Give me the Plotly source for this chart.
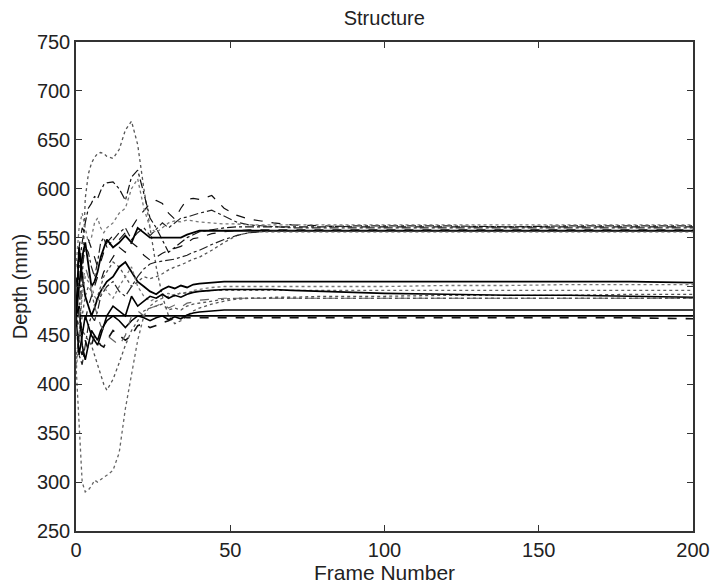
import plotly.graph_objects as go

# Frame grid shared by all series
frames = [0, 1, 2, 3, 4, 5, 6, 7, 8, 9, 10, 12, 14, 16, 18, 20, 22, 24, 26, 28, 30,
          32, 34, 36, 38, 40, 44, 48, 52, 56, 60, 64, 70, 80, 90, 100, 120, 140, 160, 180, 200]

s01 = [420, 450, 500, 590, 615, 626, 632, 636, 637, 636, 633, 631, 640, 660, 669, 645, 600, 560, 520, 490, 470,
       462, 465, 470, 475, 478, 482, 485, 487, 488, 488, 489, 489, 490, 490, 490, 491, 491, 491, 492, 492]
s02 = [470, 520, 545, 565, 580, 585, 592, 590, 598, 604, 606, 607, 600, 588, 612, 619, 595, 570, 560, 548, 535,
       540, 545, 550, 553, 556, 558, 560, 561, 561, 561, 561, 561, 561, 562, 562, 562, 561, 562, 562, 562]
s03 = [500, 540, 560, 555, 548, 540, 530, 520, 525, 535, 545, 552, 548, 555, 560, 570, 578, 585, 588, 585, 575,
       569, 580, 589, 590, 589, 593, 580, 573, 569, 567, 565, 563, 562, 561, 561, 561, 561, 561, 561, 561]
s04 = [450, 480, 520, 540, 535, 520, 510, 525, 545, 550, 540, 548, 555, 560, 548, 555, 560, 552, 558, 565, 560,
       565, 570, 571, 573, 575, 578, 572, 566, 563, 562, 561, 560, 560, 560, 560, 560, 560, 560, 560, 560]
s05 = [470, 500, 530, 545, 520, 500, 505, 515, 530, 540, 548, 540, 545, 552, 545, 560, 555, 550, 550, 550, 550,
       550, 550, 553, 555, 557, 557, 557, 557, 557, 557, 557, 557, 557, 557, 557, 557, 557, 557, 557, 557]
s06 = [480, 470, 455, 465, 480, 490, 500, 510, 505, 515, 520, 530, 540, 535, 545, 540, 532, 527, 530, 534, 537,
       539, 541, 545, 549, 550, 554, 556, 557, 558, 558, 558, 558, 558, 558, 558, 558, 558, 558, 558, 558]
s07 = [430, 445, 470, 490, 500, 495, 480, 490, 500, 510, 515, 525, 520, 510, 500, 505, 510, 508, 510, 513, 517,
       520, 522, 525, 528, 530, 537, 545, 552, 555, 556, 556, 556, 556, 556, 556, 556, 556, 556, 556, 556]
s08 = [460, 430, 420, 440, 460, 470, 465, 475, 490, 495, 500, 505, 495, 490, 500, 510, 518, 523, 525, 526, 527,
       528, 530, 532, 535, 537, 543, 548, 552, 555, 556, 557, 557, 557, 557, 557, 557, 557, 557, 557, 557]
s09 = [520, 560, 575, 560, 545, 550, 565, 570, 560, 555, 560, 565, 575, 580, 600, 610, 580, 560, 555, 560, 565,
       567, 566, 568, 567, 566, 565, 564, 564, 563, 563, 563, 563, 563, 563, 563, 563, 563, 563, 563, 563]
s10 = [470, 540, 510, 490, 480, 470, 478, 488, 495, 500, 505, 510, 520, 525, 515, 505, 500, 495, 492, 497, 500,
       498, 501, 499, 502, 503, 504, 505, 505, 505, 505, 505, 505, 505, 505, 505, 505, 505, 505, 505, 504]
s11 = [410, 450, 490, 510, 505, 500, 490, 485, 492, 500, 495, 488, 500, 510, 520, 500, 490, 485, 488, 492, 493,
       490, 494, 492, 496, 497, 499, 500, 500, 500, 500, 500, 500, 500, 500, 500, 501, 501, 502, 502, 502]
s12 = [420, 360, 300, 290, 292, 296, 302, 300, 303, 305, 307, 312, 330, 375, 410, 445, 470, 480, 485, 488, 490,
       492, 493, 494, 495, 495, 496, 496, 496, 496, 496, 496, 496, 496, 496, 496, 496, 496, 496, 496, 496]
s13 = [470, 460, 455, 450, 445, 440, 430, 420, 410, 400, 394, 405, 422, 440, 455, 465, 475, 478, 480, 482, 476,
       478, 476, 480, 482, 483, 485, 487, 488, 488, 488, 488, 488, 488, 488, 488, 488, 488, 488, 488, 488]
s14 = [470, 430, 450, 470, 460, 450, 445, 440, 450, 460, 470, 480, 475, 470, 490, 480, 485, 490, 488, 492, 488,
       491, 489, 492, 494, 495, 496, 497, 497, 497, 497, 497, 496, 495, 494, 493, 492, 491, 491, 490, 489]
s15 = [470, 480, 440, 425, 440, 455, 450, 445, 455, 460, 465, 470, 465, 458, 465, 470, 468, 465, 468, 470, 466,
       469, 467, 471, 473, 474, 475, 476, 476, 476, 476, 476, 476, 476, 476, 476, 476, 476, 476, 476, 476]
s16 = [470] * 41
s17 = [470, 440, 430, 445, 435, 440, 450, 445, 440, 438, 445, 455, 450, 445, 450, 460, 462, 458, 460, 463, 465,
       468, 469, 468, 468, 468, 468, 468, 468, 468, 468, 468, 468, 468, 468, 468, 468, 468, 468, 468, 467]
s18 = [450, 470, 500, 520, 510, 495, 480, 470, 460, 455, 450, 445, 440, 450, 470, 475, 470, 478, 480, 483, 478,
       481, 479, 483, 484, 486, 487, 488, 488, 488, 488, 488, 488, 488, 488, 488, 488, 488, 488, 488, 488]

series = [s01, s02, s03, s04, s05, s06, s07, s08, s09, s10, s11, s12, s13, s14, s15, s16, s17, s18]
dashes = ["dot", "dashdot", "dash", "dashdot", "solid", "dash", "dot", "dashdot", "dot",
          "solid", "dot", "dot", "dot", "solid", "solid", "solid", "dash", "dash"]
colors = ["#555555", "#111111", "#111111", "#222222", "#000000", "#111111", "#555555", "#222222", "#777777",
          "#000000", "#777777", "#666666", "#555555", "#000000", "#000000", "#000000", "#111111", "#666666"]
widths = [1.3, 1.2, 1.2, 1.2, 1.8, 1.2, 1.3, 1.2, 1.3, 1.8, 1.3, 1.3, 1.3, 1.6, 1.6, 1.8, 1.6, 1.2]

x_ticks = [0, 50, 100, 150, 200]
y_ticks = [250, 300, 350, 400, 450, 500, 550, 600, 650, 700, 750]

fig = go.Figure()
for vals, d, c, w in zip(series, dashes, colors, widths):
    fig.add_trace(go.Scatter(x=frames, y=vals, mode="lines",
                             line=dict(color=c, width=w, dash=d), showlegend=False))

font_family = "Liberation Sans, Arial, sans-serif"
axis_common = dict(showline=True, linecolor="#333333", linewidth=1.5, mirror="ticks",
                   ticks="inside", ticklen=6, tickwidth=1.2, tickcolor="#333333",
                   showgrid=False, zeroline=False, automargin=False,
                   tickfont=dict(family=font_family, size=20, color="#222222"))

fig.update_layout(
    width=713, height=587,
    margin=dict(l=76, r=20, t=42, b=56),
    paper_bgcolor="white", plot_bgcolor="white",
    title=dict(text="Structure", x=0.539, xanchor="center", y=0.969, yanchor="middle",
               font=dict(family=font_family, size=20, color="#222222")),
    xaxis=dict(range=[0, 200], tickvals=x_ticks, title=dict(text="Frame Number", standoff=2,
               font=dict(family=font_family, size=21, color="#222222")), **axis_common),
    yaxis=dict(range=[250, 750], tickvals=y_ticks, title=dict(text="Depth (mm)", standoff=4,
               font=dict(family=font_family, size=20, color="#222222")), **axis_common),
)

fig.write_html("out.html")
